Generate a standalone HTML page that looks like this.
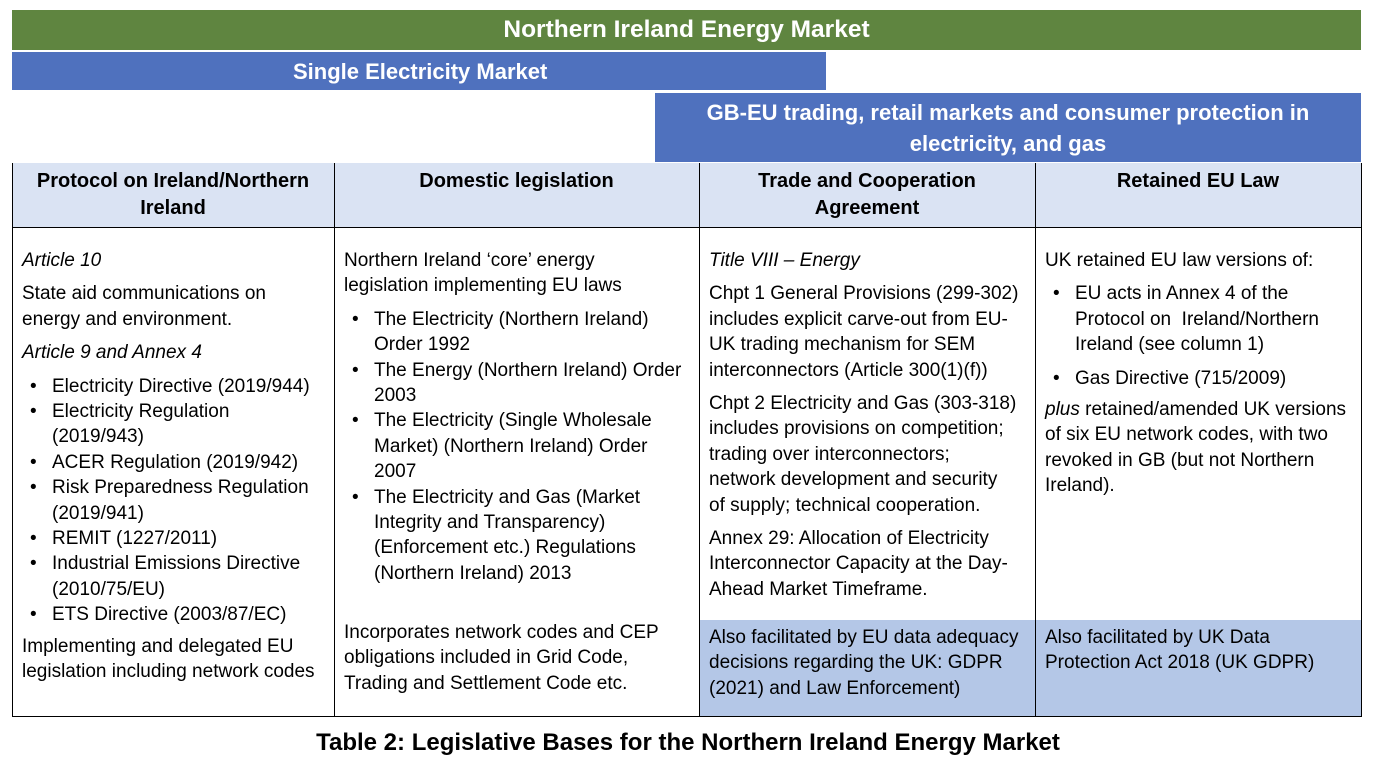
<!DOCTYPE html>
<html><head><meta charset="utf-8"><style>
body{margin:0;width:1376px;height:766px;background:#fff;position:relative;font-family:"Liberation Sans",Arial,sans-serif;overflow:hidden}
.a{position:absolute}
.bar{position:absolute;color:#fff;font-weight:bold;font-size:22px;text-align:center}
.h{position:absolute;background:#dae3f3;font-weight:bold;font-size:20px;text-align:center;line-height:27px;color:#000}
.c{position:absolute;font-size:19px;line-height:25.4px;color:#000;white-space:nowrap}
.c p{margin:0 0 8px 0}
.c i{font-style:italic}
ul{margin:0 0 6px 0;padding:0;list-style:none}
li{position:relative;padding-left:30px}
li:before{content:"•";position:absolute;left:8px}
.v{position:absolute;width:1px;background:#000;top:163px;height:553px}
</style></head><body>
<div class="bar" style="left:12px;top:10px;width:1349px;height:40px;line-height:40px;background:#5f8540;font-size:24.5px">Northern Ireland Energy Market</div>
<div class="bar" style="left:12px;top:52px;width:814px;height:38px;line-height:40px;background:#4f71be;text-align:left"><span style="position:absolute;left:281px">Single Electricity Market</span></div>
<div class="bar" style="left:655px;top:93px;width:706px;height:69px;line-height:31px;padding-top:4px;box-sizing:border-box;background:#4f71be">GB-EU trading, retail markets and consumer protection in<br>electricity, and gas</div>
<div class="h" style="left:12px;top:163px;width:322px;height:64px;padding-top:5px;box-sizing:border-box">Protocol on Ireland/Northern<br>Ireland</div>
<div class="h" style="left:334px;top:163px;width:365px;height:64px;padding-top:5px;box-sizing:border-box">Domestic legislation</div>
<div class="h" style="left:699px;top:163px;width:336px;height:64px;padding-top:5px;box-sizing:border-box">Trade and Cooperation<br>Agreement</div>
<div class="h" style="left:1035px;top:163px;width:326px;height:64px;padding-top:5px;box-sizing:border-box">Retained EU Law</div>
<div class="a" style="left:699px;top:620px;width:336px;height:96px;background:#b4c7e7"></div>
<div class="a" style="left:1035px;top:620px;width:326px;height:96px;background:#b4c7e7"></div>
<div class="a" style="left:12px;top:227px;width:1350px;height:1px;background:#000"></div>
<div class="a" style="left:12px;top:716px;width:1350px;height:1px;background:#000"></div>
<div class="v" style="left:12px"></div><div class="v" style="left:334px"></div><div class="v" style="left:699px"></div><div class="v" style="left:1035px"></div><div class="v" style="left:1361px"></div>

<div class="c" style="left:22px;top:248px">
<p><i>Article 10</i></p>
<p>State aid communications on<br>energy and environment.</p>
<p><i>Article 9 and Annex 4</i></p>
<ul><li>Electricity Directive (2019/944)</li><li>Electricity Regulation<br>(2019/943)</li><li>ACER Regulation (2019/942)</li><li>Risk Preparedness Regulation<br>(2019/941)</li><li>REMIT (1227/2011)</li><li>Industrial Emissions Directive<br>(2010/75/EU)</li><li>ETS Directive (2003/87/EC)</li></ul>
<p>Implementing and delegated EU<br>legislation including network codes</p>
</div>

<div class="c" style="left:344px;top:248px">
<p>Northern Ireland ‘core’ energy<br>legislation implementing EU laws</p>
<ul><li>The Electricity (Northern Ireland)<br>Order 1992</li><li>The Energy (Northern Ireland) Order<br>2003</li><li>The Electricity (Single Wholesale<br>Market) (Northern Ireland) Order<br>2007</li><li>The Electricity and Gas (Market<br>Integrity and Transparency)<br>(Enforcement etc.) Regulations<br>(Northern Ireland) 2013</li></ul>
</div>
<div class="c" style="left:344px;top:620px">Incorporates network codes and CEP<br>obligations included in Grid Code,<br>Trading and Settlement Code etc.</div>

<div class="c" style="left:709px;top:248px">
<p><i>Title VIII – Energy</i></p>
<p>Chpt 1 General Provisions (299-302)<br>includes explicit carve-out from EU-<br>UK trading mechanism for SEM<br>interconnectors (Article 300(1)(f))</p>
<p>Chpt 2 Electricity and Gas (303-318)<br>includes provisions on competition;<br>trading over interconnectors;<br>network development and security<br>of supply; technical cooperation.</p>
<p>Annex 29: Allocation of Electricity<br>Interconnector Capacity at the Day-<br>Ahead Market Timeframe.</p>
</div>
<div class="c" style="left:709px;top:625px">Also facilitated by EU data adequacy<br>decisions regarding the UK: GDPR<br>(2021) and Law Enforcement)</div>

<div class="c" style="left:1045px;top:248px">
<p>UK retained EU law versions of:</p>
<ul><li>EU acts in Annex 4 of the<br>Protocol on&nbsp; Ireland/Northern<br>Ireland (see column 1)</li><li style="margin-top:8px">Gas Directive (715/2009)</li></ul>
<p><i>plus</i> retained/amended UK versions<br>of six EU network codes, with two<br>revoked in GB (but not Northern<br>Ireland).</p>
</div>
<div class="c" style="left:1045px;top:625px">Also facilitated by UK Data<br>Protection Act 2018 (UK GDPR)</div>

<div class="a" style="left:0;top:728px;width:1376px;text-align:center;font-weight:bold;font-size:24px;line-height:30px">Table 2: Legislative Bases for the Northern Ireland Energy Market</div>
</body></html>
